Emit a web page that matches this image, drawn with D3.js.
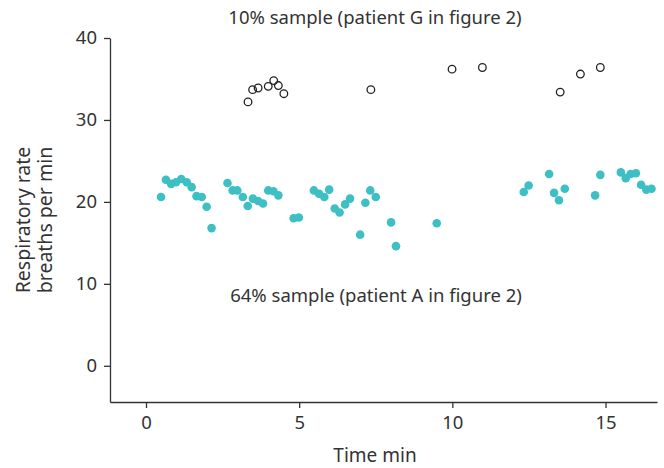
<!DOCTYPE html>
<html>
<head>
<meta charset="utf-8">
<script src="https://cdn.jsdelivr.net/npm/d3@7"></script>
<style>
    body { margin: 0; background: #fff; }
    text { font-family: "Noto Sans", sans-serif; fill: #333; }
</style>
</head>
<body>
<div id="chart-area"></div>
<script>

// 64% sample (patient A) - filled teal dots
var timeA = [0.49, 0.65, 0.82, 0.98, 1.15, 1.33, 1.49, 1.65, 1.82, 1.98, 2.14,
    2.66, 2.83, 2.98, 3.16, 3.32, 3.49, 3.66, 3.82, 3.99, 4.16, 4.32, 4.82, 4.99,
    5.48, 5.65, 5.82, 5.98, 6.16, 6.32, 6.50, 6.66, 6.99, 7.16, 7.32, 7.50, 8.00, 8.16, 9.49,
    12.33, 12.49, 13.16, 13.32, 13.48, 13.67, 14.66, 14.83,
    15.50, 15.66, 15.82, 15.99, 16.16, 16.33, 16.50];
var rateA = [20.6, 22.7, 22.2, 22.4, 22.8, 22.4, 21.8, 20.7, 20.6, 19.4, 16.8,
    22.3, 21.4, 21.4, 20.6, 19.5, 20.4, 20.1, 19.8, 21.4, 21.3, 20.8, 18.0, 18.1,
    21.4, 21.0, 20.6, 21.5, 19.2, 18.7, 19.7, 20.4, 16.0, 19.9, 21.4, 20.6, 17.5, 14.6, 17.4,
    21.2, 22.0, 23.4, 21.1, 20.2, 21.6, 20.8, 23.3,
    23.6, 22.9, 23.4, 23.5, 22.1, 21.5, 21.6];

// 10% sample (patient G) - open circles
var timeG = [3.33, 3.48, 3.66, 3.99, 4.17, 4.32, 4.50, 7.34, 9.99, 10.98, 13.52, 14.18, 14.83];
var rateG = [32.2, 33.7, 33.9, 34.1, 34.8, 34.2, 33.2, 33.7, 36.2, 36.4, 33.4, 35.6, 36.4];

var xTicks = [0, 5, 10, 15];
var yTicks = [0, 10, 20, 30, 40];

var labelG = "10% sample (patient G in figure 2)";
var labelA = "64% sample (patient A in figure 2)";
var xTitle = "Time min";
var yTitle = ["Respiratory rate", "breaths per min"];


var margin = {top: 38, right: 7, bottom: 66, left: 110};
var width = 664 - margin.left - margin.right;
var height = 468 - margin.top - margin.bottom;

var svg = d3.select("#chart-area").append("svg")
    .attr("width", 664)
    .attr("height", 468)
    .append("g")
    .attr("transform", "translate(" + margin.left + "," + margin.top + ")");

var x = d3.scaleLinear()
    .domain([-1.175, 16.68])
    .range([0, width]);

var y = d3.scaleLinear()
    .domain([-4.42, 40])
    .range([height, 0]);

var xAxis = d3.axisBottom(x)
    .tickValues(xTicks)
    .tickSize(6)
    .tickPadding(8)
    .tickSizeOuter(0);

var yAxis = d3.axisLeft(y)
    .tickValues(yTicks)
    .tickSize(6)
    .tickPadding(7)
    .tickSizeOuter(0);

svg.append("g")
    .attr("class", "x-axis axis")
    .attr("transform", "translate(0," + height + ")")
    .call(xAxis);

svg.append("g")
    .attr("class", "y-axis axis")
    .call(yAxis);

svg.selectAll(".axis path, .axis line")
    .attr("stroke", "#333")
    .attr("stroke-width", 1.3);

svg.selectAll(".axis text")
    .style("font-size", "18.5px")
    .style("font-family", "Noto Sans")
    .attr("fill", "#333");

// teal filled dots
var dataA = timeA.map(function(t, i) { return {t: t, r: rateA[i]}; });
var dataG = timeG.map(function(t, i) { return {t: t, r: rateG[i]}; });

svg.selectAll(".dotA")
    .data(dataA)
    .enter()
    .append("circle")
    .attr("class", "dotA")
    .attr("cx", d => x(d.t))
    .attr("cy", d => y(d.r))
    .attr("r", 4.3)
    .attr("fill", "#3dbfc3");

svg.selectAll(".dotG")
    .data(dataG)
    .enter()
    .append("circle")
    .attr("class", "dotG")
    .attr("cx", d => x(d.t))
    .attr("cy", d => y(d.r))
    .attr("r", 3.8)
    .attr("fill", "none")
    .attr("stroke", "#222")
    .attr("stroke-width", 1.3);

// annotations
svg.append("text")
    .attr("x", 265)
    .attr("y", -14)
    .attr("text-anchor", "middle")
    .style("font-size", "18.5px")
    .text(labelG);

svg.append("text")
    .attr("x", 266)
    .attr("y", 264)
    .attr("text-anchor", "middle")
    .style("font-size", "18.5px")
    .text(labelA);

// axis titles
svg.append("text")
    .attr("x", 265)
    .attr("y", height + 60)
    .attr("text-anchor", "middle")
    .style("font-size", "19px")
    .text(xTitle);

svg.append("text")
    .attr("transform", "translate(-80," + (height / 2) + ") rotate(-90)")
    .attr("text-anchor", "middle")
    .style("font-size", "19.5px")
    .selectAll("tspan")
    .data(yTitle)
    .enter()
    .append("tspan")
    .attr("x", 0)
    .attr("dy", (d, i) => i === 0 ? 0 : 21.5)
    .text(d => d);

</script>
</body>
</html>
